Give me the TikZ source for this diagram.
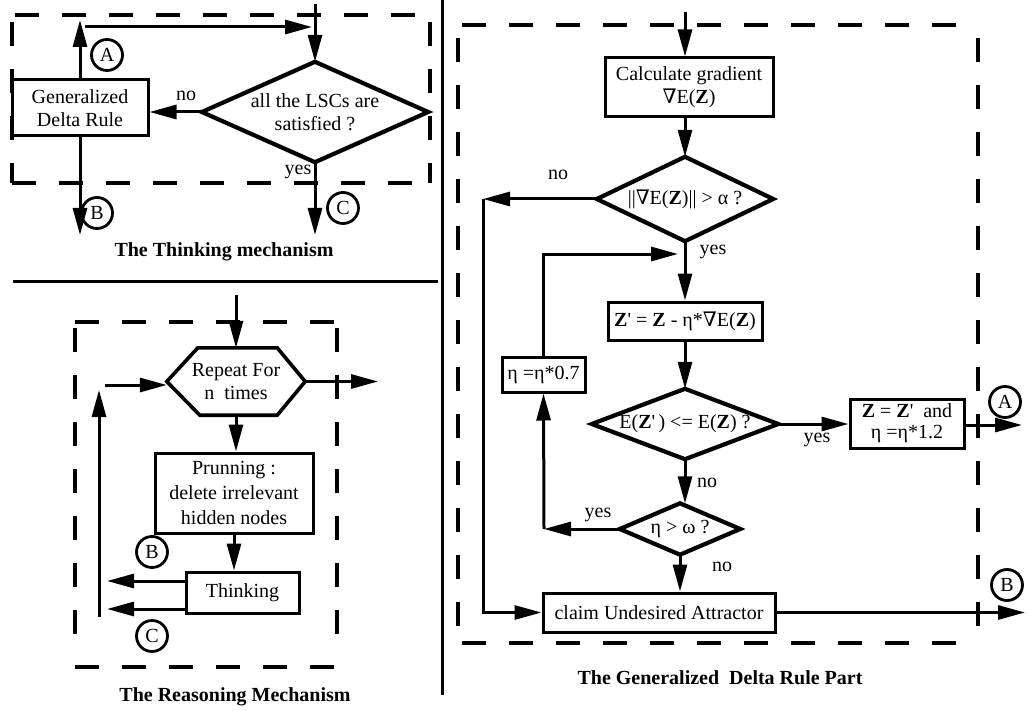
\documentclass[tikz,border=0pt]{standalone}
\usepackage{fontspec}
\setmainfont{Liberation Serif}
\newfontfamily\symf{DejaVu Serif}
\usetikzlibrary{arrows.meta}
\begin{document}
\begin{tikzpicture}[x=1pt,y=-1pt,
  font=\fontsize{20}{23}\selectfont,
  box/.style={draw, line width=3pt, inner sep=0pt, align=center},
  dnode/.style={inner sep=0pt, align=center},
  dedge/.style={line width=4.2pt, line join=miter},
  circ/.style={draw, circle, line width=2.8pt, minimum size=31pt, inner sep=0pt},
  lab/.style={inner sep=0pt},
  captxt/.style={inner sep=0pt, font=\fontsize{20}{23}\selectfont\bfseries},
  arr/.style={line width=3pt, -{Triangle[length=27pt,width=14pt]}},
  dsh/.style={line width=4pt, dash pattern=on 24pt off 23pt},
  sep/.style={line width=3pt}]
\useasboundingbox (0,0) rectangle (1027,711);

% ---------------- separators
\coordinate (s1) at (13,281);
\coordinate (s2) at (438,281);
\coordinate (v1) at (442,0);
\coordinate (v2) at (442,695);
\draw[sep] (s1) -- (s2);
\draw[sep] (v1) -- (v2);

% ---------------- The Thinking mechanism
\draw[dsh] (15,15) -- (425,15);
\draw[dsh] (12,22) -- (12,183);
\draw[dsh] (12,183) -- (428,183);
\draw[dsh] (430,22) -- (430,183);

\node[box, minimum width=136, minimum height=56] (gdr) at (80,108) {Generalized\\Delta Rule};
\node[dnode, minimum width=226, minimum height=100] (d0) at (315,112) {all the LSCs are\\satisfied ?};
\draw[dedge] (d0.north) -- (d0.east) -- (d0.south) -- (d0.west) -- cycle;
\node[circ] (A1) at (107,55) {A};
\node[circ] (B1) at (97,213) {B};
\node[circ] (C1) at (343,208) {C};
\coordinate (tup) at (80,20);
\coordinate (th1) at (85,27);
\coordinate (th2) at (312,27);
\coordinate (tin) at (315,4);
\coordinate (tb) at (80,235);
\coordinate (tc) at (315,235);
\draw[arr] (gdr.north) -- (tup);
\draw[arr] (th1) -- (th2);
\draw[arr] (tin) -- (d0.north);
\draw[arr] (d0.west) -- (d0.west -| gdr.east);
\draw[arr] (gdr.south) -- (tb);
\draw[arr] (d0.south) -- (tc);
\node[lab] (no0) at (186,96) {no};
\node[lab] (yes0) at (298,172) {yes};
\node[captxt] (cap1) at (224,252) {The Thinking mechanism};

% ---------------- The Reasoning Mechanism
\draw[dsh] (75,322) -- (338,322);
\draw[dsh] (75,328) -- (75,640);
\draw[dsh] (337,328) -- (337,643);
\draw[dsh] (75,667) -- (338,667);

\node[dnode, minimum width=138, minimum height=67] (hex) at (236,381.5) {Repeat For\\n\ \ times};
\draw[line width=3.6pt, line join=miter] (hex.west) -- ([xshift=31pt]hex.north west) -- ([xshift=-28pt]hex.north east) -- (hex.east) -- ([xshift=-28pt]hex.south east) -- ([xshift=33pt]hex.south west) -- cycle;
\node[box, minimum width=158, minimum height=80, font=\fontsize{20}{25}\selectfont] (prun) at (234,493) {Prunning :\\delete irrelevant\\hidden nodes};
\node[box, minimum width=113, minimum height=41] (think) at (242.5,592.5) {Thinking};
\node[circ] (B2) at (152,552) {B};
\node[circ] (C2) at (152,636) {C};
\coordinate (rin) at (236,295);
\coordinate (rout) at (378,381.5);
\coordinate (l1) at (99,617);
\coordinate (l2) at (99,390);
\coordinate (l3) at (105,385);
\coordinate (rb) at (107,581);
\coordinate (rc) at (107,609);
\draw[arr] (rin) -- (hex.north);
\draw[arr] (hex.east) -- (rout);
\draw[arr] (l1) -- (l2);
\draw[arr] (l3) -- (l3 -| hex.west);
\draw[arr] (hex.south) -- (hex.south |- prun.north);
\draw[arr] (prun.south) -- (prun.south |- think.north);
\draw[arr] (think.west |- rb) -- (rb);
\draw[arr] (think.west |- rc) -- (rc);
\node[captxt] (cap2) at (235,697) {The Reasoning Mechanism};

% ---------------- The Generalized Delta Rule Part
\draw[dsh] (462,25) -- (962,25);
\draw[dsh] (458,38) -- (458,632);
\draw[dsh] (978,38) -- (978,632);
\draw[dsh] (462,643) -- (962,643);

\node[box, minimum width=168, minimum height=59] (calc) at (689,87.5) {Calculate gradient\\{\symf ∇}E(\textbf{Z})};
\node[dnode, minimum width=176, minimum height=84] (d1) at (685,199) {||{\symf ∇}E(\textbf{Z})|| > α ?};
\draw[dedge] (d1.north) -- (d1.east) -- (d1.south) -- (d1.west) -- cycle;
\node[box, minimum width=154, minimum height=38] (zp) at (685,321) {\textbf{Z}\textquotesingle{} = \textbf{Z} - η*{\symf ∇}E(\textbf{Z})};
\node[dnode, minimum width=186, minimum height=70] (d2) at (685,424) {E(\textbf{Z}\textquotesingle\,) <= E(\textbf{Z}) ?};
\draw[dedge] (d2.north) -- (d2.east) -- (d2.south) -- (d2.west) -- cycle;
\node[box, minimum width=114, minimum height=49, font=\fontsize{20}{21}\selectfont] (zz) at (907,423.5) {\textbf{Z} = \textbf{Z}\textquotesingle\ \ and\\η =η*1.2};
\node[box, minimum width=83, minimum height=35] (eta) at (543.5,374.5) {η =η*0.7};
\node[dnode, minimum width=120, minimum height=51] (d3) at (680,529) {η > ω ?};
\draw[dedge] (d3.north) -- (d3.east) -- (d3.south) -- (d3.west) -- cycle;
\node[box, minimum width=232, minimum height=39] (claim) at (659,612.5) {claim Undesired Attractor};
\node[circ] (A3) at (1005,402) {A};
\node[circ] (B3) at (1007,585) {B};

\coordinate (gin) at (685,12);
\coordinate (c1) at (483,199);
\coordinate (c2) at (544,529);
\coordinate (c3) at (678,254);
\coordinate (ga) at (1022,425);
\coordinate (gb) at (1025,612.5);
\draw[arr] (gin) -- (gin |- calc.north);
\draw[arr] (gin |- calc.south) -- (d1.north);
\draw[arr] (d1.south) -- (zp.north);
\draw[arr] (zp.south) -- (d2.north);
\draw[arr] (d2.south) -- (d2.south |- d3.north);
\draw[arr] (d3.south) -- (d3.south |- claim.north);
\draw[arr] (d2.east) -- (d2.east -| zz.west);
\draw[arr] (zz.east |- ga) -- (ga);
\draw[arr] (claim.east) -- (gb);
\draw[arr] (d1.west) -- (c1);
\draw[arr] (c1) |- (claim.west);
\draw[arr] (d3.west) -- (c2);
\draw[arr] (c2) -- (eta.south);
\draw[arr] (eta.north) |- (c3);
\node[lab] (no1) at (558,175) {no};
\node[lab] (yes1) at (713,252) {yes};
\node[lab] (yes2) at (817,440) {yes};
\node[lab] (no2) at (707,483) {no};
\node[lab] (yes3) at (598,515) {yes};
\node[lab] (no3) at (722,567) {no};
\node[captxt] (cap3) at (720,678) {The Generalized\ \ Delta Rule Part};
\end{tikzpicture}
\end{document}
